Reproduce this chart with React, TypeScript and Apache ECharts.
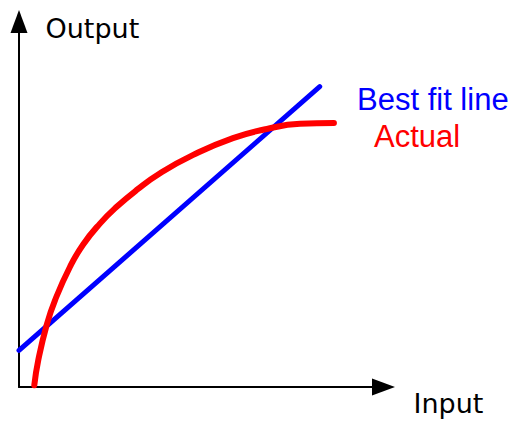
import React, { useEffect, useRef } from "react";
import * as echarts from "echarts";

// Best fit line (straight) endpoints: [input, output]
const fitInput = [0, 8.25];
const fitOutput = [1.0, 8.22];

// Actual response curve
const actualInput = [0.42, 0.53, 0.76, 0.99, 1.4, 1.76, 2.22, 2.68, 3.23, 3.87, 4.78, 5.87, 6.8, 7.71, 8.64];
const actualOutput = [0.05, 0.74, 1.7, 2.38, 3.29, 3.9, 4.47, 4.93, 5.39, 5.85, 6.35, 6.81, 7.06, 7.2, 7.22];

const labels = { x: "Input", y: "Output", fit: "Best fit line", actual: "Actual" };

export default function App() {
  const ref = useRef<HTMLDivElement>(null);
  useEffect(() => {
    document.body.style.margin = "0";
    if (!ref.current) return;
    const chart = echarts.init(ref.current, null, { renderer: "svg" });
    const fitData = fitInput.map((x, i) => [x, fitOutput[i]]);
    const actualData = actualInput.map((x, i) => [x, actualOutput[i]]);
    const axisCommon = {
      type: "value" as const,
      min: 0,
      max: 10,
      axisLabel: { show: false },
      axisTick: { show: false },
      splitLine: { show: false },
      axisLine: {
        show: true,
        symbol: ["none", "triangle"],
        symbolSize: [17, 23],
        lineStyle: { color: "#000", width: 2 },
      },
    };
    chart.setOption({
      animation: false,
      backgroundColor: "#fff",
      grid: { left: 19, top: 21.5, right: 130.5, bottom: 36, containLabel: false },
      xAxis: { ...axisCommon },
      yAxis: { ...axisCommon },
      series: [
        {
          type: "line",
          data: fitData,
          symbol: "none",
          lineStyle: { color: "#0000ff", width: 5, cap: "round" },
          z: 3,
        },
        {
          type: "line",
          data: actualData,
          smooth: 0.5,
          symbol: "none",
          lineStyle: { color: "#ff0000", width: 6, cap: "round", join: "round" },
          z: 4,
        },
      ],
      graphic: [
        {
          type: "text",
          x: 45.5,
          y: 28.5,
          style: { text: labels.y, font: "27px 'DejaVu Sans'", fill: "#000", verticalAlign: "middle" },
        },
        {
          type: "text",
          x: 413.5,
          y: 403,
          style: { text: labels.x, font: "27px 'DejaVu Sans'", fill: "#000", verticalAlign: "middle" },
        },
        {
          type: "text",
          x: 357,
          y: 99,
          style: { text: labels.fit, font: "31px 'Liberation Sans'", fill: "#0000ff", verticalAlign: "middle" },
        },
        {
          type: "text",
          x: 374,
          y: 136,
          style: { text: labels.actual, font: "31px 'Liberation Sans'", fill: "#ff0000", verticalAlign: "middle" },
        },
      ],
    });
    return () => chart.dispose();
  }, []);
  return <div ref={ref} style={{ width: 514, height: 423 }} />;
}
